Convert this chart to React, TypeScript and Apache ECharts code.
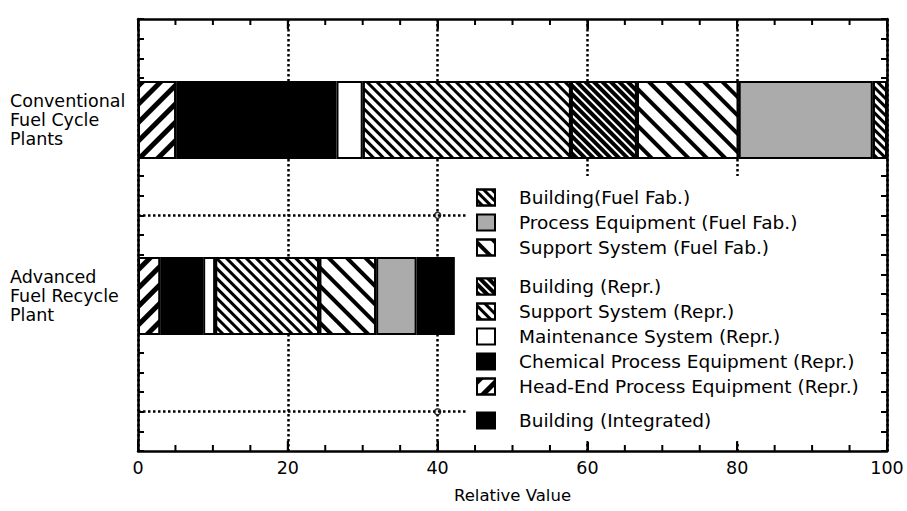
import React, { useEffect, useRef } from "react";
import * as echarts from "echarts";

const FONT = '"DejaVu Sans", "Liberation Sans", sans-serif';

// Categories (bottom to top)
const categories = ["Advanced\nFuel Recycle\nPlant", "Conventional\nFuel Cycle\nPlants"];

// Series in stacking order (left to right)
const seriesNames = [
  "Head-End Process Equipment (Repr.)",
  "Chemical Process Equipment (Repr.)",
  "Maintenance System (Repr.)",
  "Support System (Repr.)",
  "Building (Repr.)",
  "Support System (Fuel Fab.)",
  "Process Equipment (Fuel Fab.)",
  "Building(Fuel Fab.)",
  "Building (Integrated)",
];
const advancedValues: (number | null)[] = [3.0, 5.7, 1.6, 13.9, null, 7.6, 5.4, null, 5.1];
const conventionalValues: (number | null)[] = [5.1, 21.4, 3.5, 27.8, 8.8, 13.6, 17.9, 1.9, null];

// Legend groups
const legendGroup1 = ["Building(Fuel Fab.)", "Process Equipment (Fuel Fab.)", "Support System (Fuel Fab.)"];
const legendGroup2 = [
  "Building (Repr.)",
  "Support System (Repr.)",
  "Maintenance System (Repr.)",
  "Chemical Process Equipment (Repr.)",
  "Head-End Process Equipment (Repr.)",
];
const legendGroup3 = ["Building (Integrated)"];

// Axis ranges and tick positions
const xMin = 0;
const xMax = 100;
const xInterval = 20;
const xMinorTicks = [5, 10, 15, 25, 30, 35, 45, 50, 55, 65, 70, 75, 85, 90, 95];
const xMajorTicks = [20, 40, 60, 80];
const frameYMin = 0;
const frameYMax = 22;
const gridLineYs = [2, 12];
const gridLineXEnd = 44;
const gridMarkers = [
  [40, 2],
  [40, 12],
];

const SLASH = -Math.PI / 4;
const BACK = Math.PI / 4;

const stripe = (bg: string, fg: string, thick: number, gap: number, rot: number) => ({
  color: bg,
  decal: {
    symbol: "rect",
    symbolSize: 1,
    color: fg,
    dashArrayX: [1, 0],
    dashArrayY: [thick, gap],
    rotation: rot,
  },
});

const styles: Record<string, any> = {
  "Head-End Process Equipment (Repr.)": stripe("#fff", "#000", 4.5, 8, SLASH),
  "Chemical Process Equipment (Repr.)": { color: "#000" },
  "Maintenance System (Repr.)": { color: "#fff" },
  "Support System (Repr.)": stripe("#fff", "#000", 2.5, 3.8, BACK),
  "Building (Repr.)": stripe("#000", "#fff", 1.2, 3.6, BACK),
  "Support System (Fuel Fab.)": stripe("#fff", "#000", 3.5, 8.5, BACK),
  "Process Equipment (Fuel Fab.)": { color: "#ababab" },
  "Building(Fuel Fab.)": stripe("#fff", "#000", 3, 2.5, BACK),
  "Building (Integrated)": { color: "#000" },
};

const legendBase = {
  orient: "vertical",
  left: 476,
  padding: 0,
  itemWidth: 18,
  itemHeight: 16,
  itemGap: 6,
  icon: "rect",
  selectedMode: false,
  textStyle: {
    fontFamily: FONT,
    fontSize: 18.5,
    color: "#000",
    lineHeight: 16,
    padding: [0, 0, 0, 19],
  },
};

const frameAxisLine = { show: true, onZero: false, lineStyle: { color: "#000", width: 2.5 } };
const tickStyle = { color: "#000", width: 2 };

const MINOR_PX = 6;
const MAJOR_PX = 10;

const tickSeries = (name: string, values: number[], y: number, len: number, dir: number) => ({
  name,
  type: "scatter",
  xAxisIndex: 0,
  yAxisIndex: 0,
  silent: true,
  clip: false,
  data: values.map((x) => [x, y]),
  symbol: "rect",
  symbolSize: [2, len],
  symbolOffset: [0, (dir * len) / 2],
  itemStyle: { color: "#000", opacity: 1 },
  z: 6,
});

function buildOption() {
  const series: any[] = seriesNames.map((name, i) => ({
    name,
    type: "bar",
    stack: "total",
    xAxisIndex: 2,
    yAxisIndex: 2,
    barWidth: 78,
    data: [advancedValues[i], conventionalValues[i]],
    itemStyle: {
      ...styles[name],
      borderColor: "#000",
      borderWidth: 2,
    },
    z: 3,
  }));

  series.push({
    name: "gridMarkers",
    type: "scatter",
    xAxisIndex: 0,
    yAxisIndex: 0,
    data: gridMarkers,
    symbol: "circle",
    symbolSize: 6,
    itemStyle: { color: "#fff", borderColor: "#000", borderWidth: 1.5 },
    z: 4,
    markLine: {
      silent: true,
      symbol: "none",
      label: { show: false },
      lineStyle: { color: "#000", width: 2.5, type: [2.5, 2.5] },
      data: gridLineYs.map((y) => [{ coord: [xMin, y] }, { coord: [gridLineXEnd, y] }]),
    },
  });

  series.push(tickSeries("minorTicksBottom", xMinorTicks, frameYMin, MINOR_PX, -1));
  series.push(tickSeries("minorTicksTop", xMinorTicks, frameYMax, MINOR_PX, 1));
  series.push(tickSeries("majorTicksBottom", xMajorTicks, frameYMin, MAJOR_PX, -1));
  series.push(tickSeries("majorTicksTop", xMajorTicks, frameYMax, MAJOR_PX, 1));

  return {
    animation: false,
    backgroundColor: "#fff",
    textStyle: { fontFamily: FONT },
    grid: [
      { left: 138, right: 20, top: 19, bottom: 60 },
      { left: 138, right: 20, top: 32, height: 352 },
    ],
    legend: [
      { ...legendBase, top: 188, data: legendGroup1 },
      { ...legendBase, top: 277, data: legendGroup2 },
      { ...legendBase, top: 411, data: legendGroup3 },
    ],
    graphic: {
      elements: [
        {
          type: "rect",
          z: 1,
          shape: { x: 462, y: 176, width: 419, height: 266 },
          style: { fill: "#fff" },
        },
      ],
    },
    xAxis: [
      {
        gridIndex: 0,
        type: "value",
        position: "bottom",
        min: xMin,
        max: xMax,
        interval: xInterval,
        axisLine: frameAxisLine,
        axisTick: { show: true, inside: true, length: MAJOR_PX, lineStyle: tickStyle },
        axisLabel: { color: "#000", fontSize: 17.5, margin: 8, fontFamily: FONT },
        splitLine: { show: true, lineStyle: { color: "#000", width: 2.5, type: [2.5, 2.5] } },
        name: "Relative Value",
        nameLocation: "middle",
        nameGap: 36,
        nameTextStyle: { color: "#000", fontSize: 16.5, fontFamily: FONT },
      },
      {
        gridIndex: 0,
        type: "value",
        position: "top",
        min: xMin,
        max: xMax,
        interval: xInterval,
        axisLine: frameAxisLine,
        axisTick: { show: true, inside: true, length: MAJOR_PX, lineStyle: tickStyle },
        axisLabel: { show: false },
        splitLine: { show: false },
      },
      {
        gridIndex: 1,
        type: "value",
        min: xMin,
        max: xMax,
        show: false,
      },
    ],
    yAxis: [
      {
        gridIndex: 0,
        type: "value",
        position: "left",
        min: frameYMin,
        max: frameYMax,
        interval: 1,
        axisLine: frameAxisLine,
        axisTick: { show: true, inside: true, length: 6, lineStyle: tickStyle },
        axisLabel: { show: false },
        splitLine: { show: false },
      },
      {
        gridIndex: 0,
        type: "value",
        position: "right",
        min: frameYMin,
        max: frameYMax,
        interval: 1,
        axisLine: frameAxisLine,
        axisTick: { show: true, inside: true, length: 6, lineStyle: tickStyle },
        axisLabel: { show: false },
        splitLine: { show: false },
      },
      {
        gridIndex: 1,
        type: "category",
        data: categories,
        axisLine: { show: false },
        axisTick: { show: false },
        splitLine: { show: false },
        axisLabel: {
          align: "left",
          margin: 128,
          color: "#000",
          fontSize: 17.5,
          lineHeight: 19,
          fontFamily: FONT,
        },
      },
    ],
    series,
  };
}

export default function App() {
  const ref = useRef<HTMLDivElement>(null);
  useEffect(() => {
    if (!ref.current) return;
    const chart = echarts.init(ref.current, null, { renderer: "svg" });
    chart.setOption(buildOption() as any);
    return () => chart.dispose();
  }, []);
  return (
    <div
      ref={ref}
      style={{ position: "fixed", left: 0, top: 0, width: 907, height: 511, background: "#fff" }}
    />
  );
}
